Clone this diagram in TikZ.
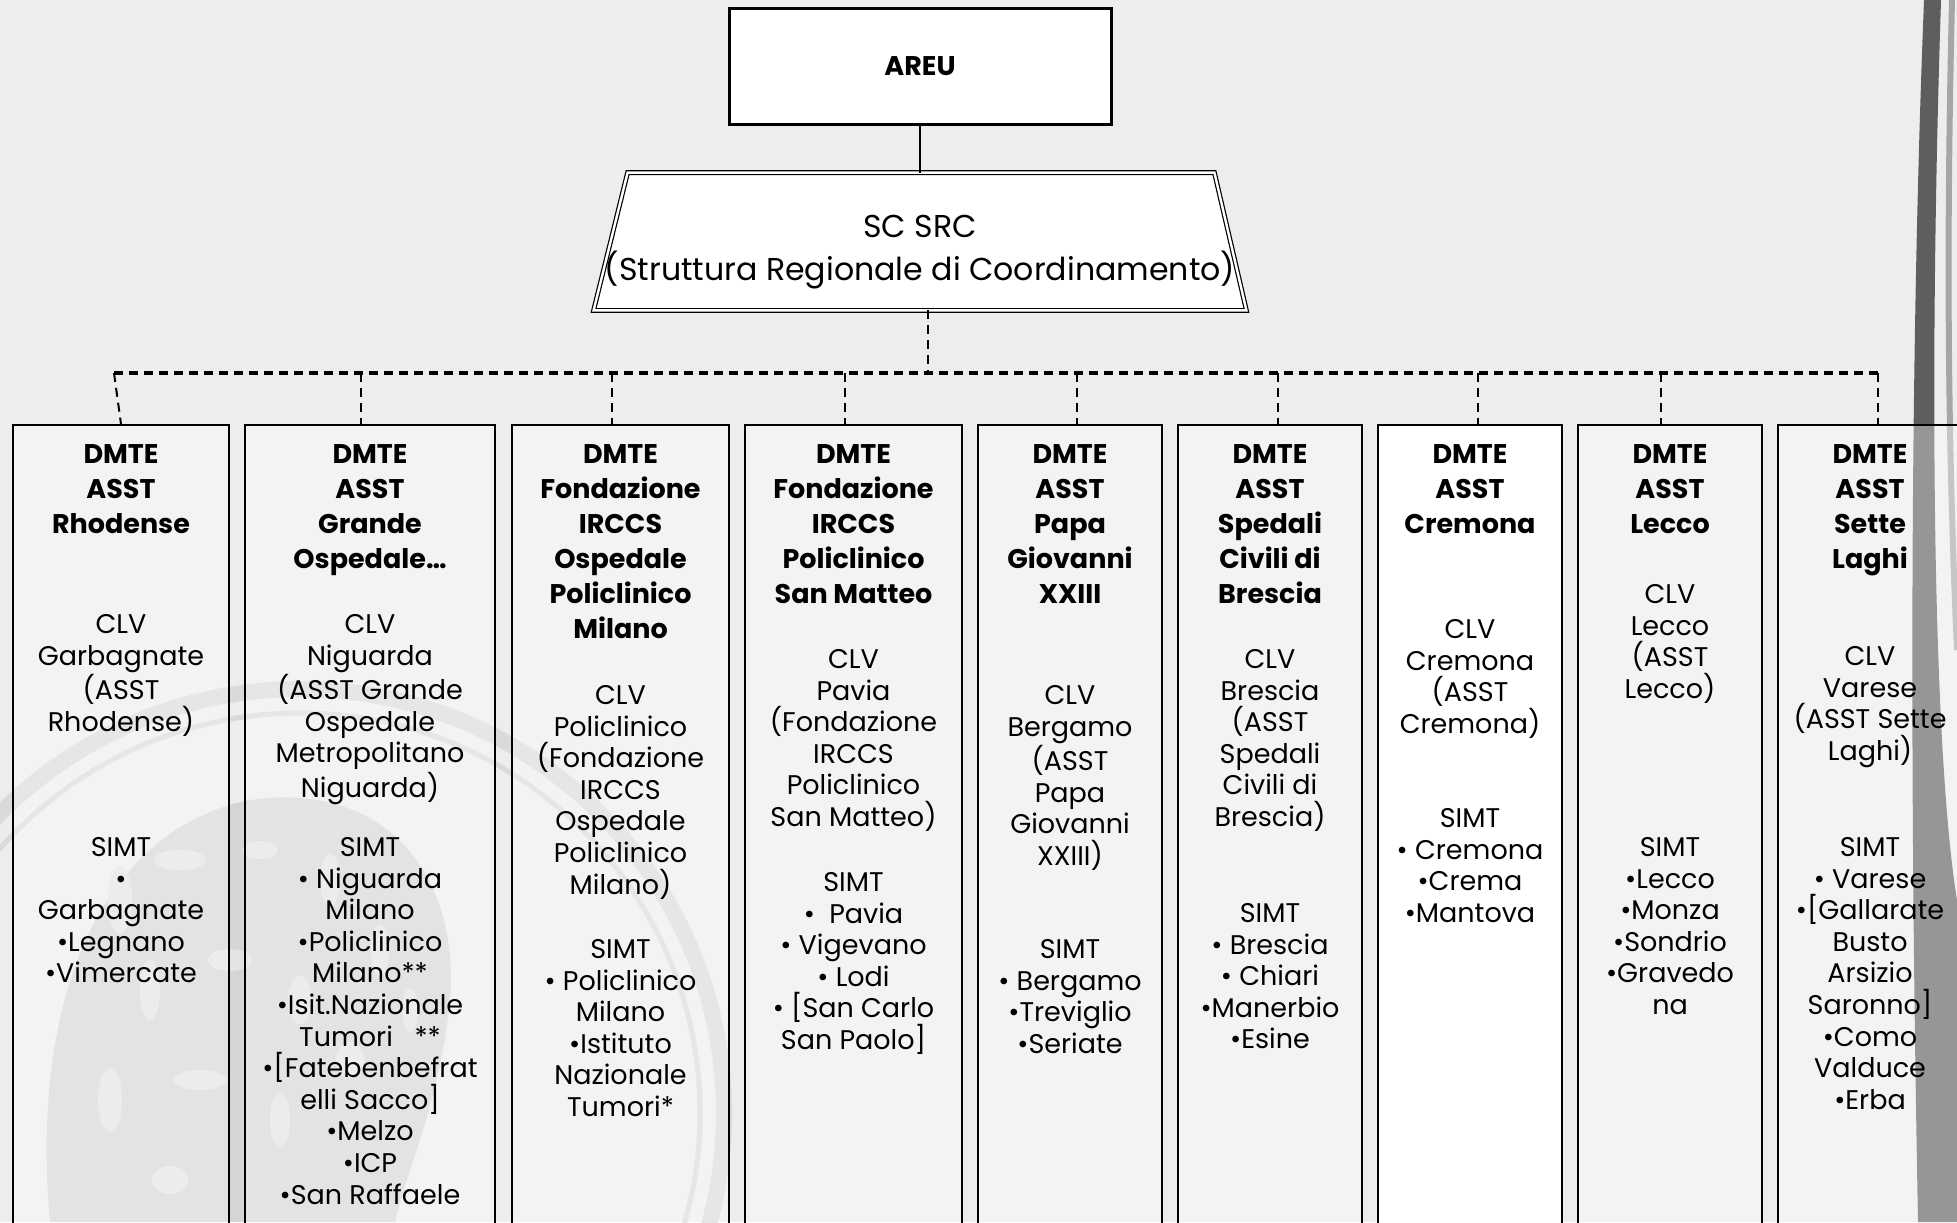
\documentclass[tikz,border=0pt]{standalone}
\usepackage{fontspec}
\setmainfont{Poppins}
\usetikzlibrary{backgrounds}

\definecolor{bggray}{HTML}{EDEDED}
\definecolor{markgray}{HTML}{DADADA}
\definecolor{headgray}{HTML}{D5D5D5}
\definecolor{bandgray}{HTML}{5E5E5E}

\newcommand{\headfont}{\fontsize{13.5}{17.5}\selectfont\bfseries}
\newcommand{\infofont}{\fontsize{13.5}{15.8}\selectfont}
\newcommand{\srcfont}{\fontsize{15.8}{21.5}\selectfont}

\begin{document}
\begin{tikzpicture}[x=0.5pt,y=-0.5pt,
  unit/.style={draw, line width=0.8pt, fill=white, fill opacity=0.35, anchor=north, minimum height=470pt, inner sep=0pt},
  head/.style={font=\headfont, align=center, anchor=north, inner sep=0pt},
  info/.style={font=\infofont, align=center, anchor=north, inner sep=0pt},
  link/.style={dash pattern=on 4.5pt off 3pt, line width=1pt}]
\useasboundingbox (0,0) rectangle (1957,1222);
% slide background, watermark and side band
\begin{scope}[on background layer]
\fill[bggray] (0,0) rectangle (1957,1222);
\fill[headgray] (50,1222) .. controls (30,1000) and (100,830) .. (250,800)
  .. controls (390,780) and (460,880) .. (450,1000)
  .. controls (440,1100) and (410,1160) .. (395,1222) -- cycle;
\foreach \x/\y/\a/\b in {120/900/12/34, 180/860/26/10, 260/850/18/9, 330/880/10/26,
  150/990/10/30, 230/960/22/11, 300/1000/12/24, 380/950/9/26, 110/1100/12/32,
  200/1080/26/10, 280/1120/10/28, 350/1060/14/18, 410/1010/8/22, 170/1180/18/14}
  \fill[bggray!60!headgray] (\x,\y) ellipse [x radius=\a, y radius=\b];
\draw[markgray, line width=8pt] (300,1113) circle (424);
\draw[markgray, line width=2.5pt] (300,1113) circle (400);
\fill[bandgray] (1924,0) .. controls (1912,300) and (1908,700) .. (1918,1222)
  -- (1957,1222) -- (1957,900) .. controls (1934,760) and (1928,400) .. (1941,0) -- cycle;
\draw[gray!70, line width=3pt] (1952,0) .. controls (1946,250) and (1948,450) .. (1957,650);
\end{scope}

% top of the chart
\node[draw, line width=1.5pt, fill=white, minimum width=191pt, minimum height=58pt, font=\headfont] (areu) at (920,66) {AREU};
\node[minimum width=326pt, minimum height=68.5pt, inner sep=0pt] (src) at (920,241.5) {};
\node[font=\srcfont, align=center, inner sep=0pt] (srctext) at ([yshift=-5.5pt]src.center) {SC SRC\\(Struttura Regionale di Coordinamento)};
\begin{scope}[on background layer]
\draw[line width=0.6pt, double, double distance=1.2pt, fill=white] (src.south west) -- ([xshift=17pt]src.north west)
  -- ([xshift=-16pt]src.north east) -- (src.south east) -- cycle;
\end{scope}
\draw[line width=1.2pt] (areu.south) -- (src.north);

% dashed bus
\coordinate (hub) at (928,373);
\foreach \i/\x in {1/114,2/361,3/612,4/845,5/1077,6/1278,7/1478,8/1661,9/1878}
  \coordinate (d\i) at (\x,373);
\draw[link] (src.south -| hub) -- (hub);
\draw[link, line width=1.6pt] (d1) -- (d9);

% Rhodense
\node[unit, minimum width=108pt] (box1) at (121,424) {};
\node[head] (head1) at (121,444) {DMTE\\ASST\\Rhodense};
\node[info] (clv1) at (121,614) {CLV\\Garbagnate\\(ASST\\Rhodense)};
\node[info] (simt1) at (121,837) {SIMT\\•\\Garbagnate\\•Legnano\\•Vimercate};
% Niguarda
\node[unit, minimum width=125pt] (box2) at (370,424) {};
\node[head] (head2) at (370,444) {DMTE\\ASST\\Grande\\Ospedale…};
\node[info] (clv2) at (370,614) {CLV\\Niguarda\\(ASST Grande\\Ospedale\\Metropolitano\\Niguarda)};
\node[info] (simt2) at (370,837) {SIMT\\• Niguarda\\Milano\\•Policlinico\\Milano**\\•Isit.Nazionale\\Tumori\ \ \ **\\•[Fatebenbefrat\\elli Sacco]\\•Melzo\\•ICP\\•San Raffaele};
% Policlinico Milano
\node[unit, minimum width=108.5pt] (box3) at (620.5,424) {};
\node[head] (head3) at (620.5,444) {DMTE\\Fondazione\\IRCCS\\Ospedale\\Policlinico\\Milano};
\node[info] (clv3) at (620.5,685) {CLV\\Policlinico\\(Fondazione\\IRCCS\\Ospedale\\Policlinico\\Milano)};
\node[info] (simt3) at (620.5,939) {SIMT\\• Policlinico\\Milano\\•Istituto\\Nazionale\\Tumori*};
% San Matteo
\node[unit, minimum width=108.5pt] (box4) at (853.5,424) {};
\node[head] (head4) at (853.5,444) {DMTE\\Fondazione\\IRCCS\\Policlinico\\San Matteo};
\node[info] (clv4) at (853.5,649) {CLV\\Pavia\\(Fondazione\\IRCCS\\Policlinico\\San Matteo)};
\node[info] (simt4) at (853.5,872) {SIMT\\•\ \ Pavia\\• Vigevano\\• Lodi\\• [San Carlo\\San Paolo]};
% Papa Giovanni
\node[unit, minimum width=92pt] (box5) at (1070,424) {};
\node[head] (head5) at (1070,444) {DMTE\\ASST\\Papa\\Giovanni\\XXIII};
\node[info] (clv5) at (1070,685) {CLV\\Bergamo\\(ASST\\Papa\\Giovanni\\XXIII)};
\node[info] (simt5) at (1070,939) {SIMT\\• Bergamo\\•Treviglio\\•Seriate};
% Spedali Civili
\node[unit, minimum width=92pt] (box6) at (1270,424) {};
\node[head] (head6) at (1270,444) {DMTE\\ASST\\Spedali\\Civili di\\Brescia};
\node[info] (clv6) at (1270,649) {CLV\\Brescia\\(ASST\\Spedali\\Civili di\\Brescia)};
\node[info] (simt6) at (1270,903) {SIMT\\• Brescia\\• Chiari\\•Manerbio\\•Esine};
% Cremona
\node[unit, minimum width=92pt, fill opacity=1] (box7) at (1470,424) {};
\node[head] (head7) at (1470,444) {DMTE\\ASST\\Cremona};
\node[info] (clv7) at (1470,619) {CLV\\Cremona\\(ASST\\Cremona)};
\node[info] (simt7) at (1470,808) {SIMT\\• Cremona\\•Crema\\•Mantova};
% Lecco
\node[unit, minimum width=92pt] (box8) at (1670,424) {};
\node[head] (head8) at (1670,444) {DMTE\\ASST\\Lecco};
\node[info] (clv8) at (1670,584) {CLV\\Lecco\\(ASST\\Lecco)};
\node[info] (simt8) at (1670,837) {SIMT\\•Lecco\\•Monza\\•Sondrio\\•Gravedo\\na};
% Sette Laghi
\node[unit, minimum width=92pt] (box9) at (1870,424) {};
\node[head] (head9) at (1870,444) {DMTE\\ASST\\Sette\\Laghi};
\node[info] (clv9) at (1870,646) {CLV\\Varese\\(ASST Sette\\Laghi)};
\node[info] (simt9) at (1870,837) {SIMT\\• Varese\\•[Gallarate\\Busto\\Arsizio\\Saronno]\\•Como\\Valduce\\•Erba};

% drops to the boxes
\draw[link] (d1) -- (box1.north);
\foreach \i in {2,...,9}
  \draw[link] (d\i) -- (d\i |- box\i.north);
\end{tikzpicture}
\end{document}
